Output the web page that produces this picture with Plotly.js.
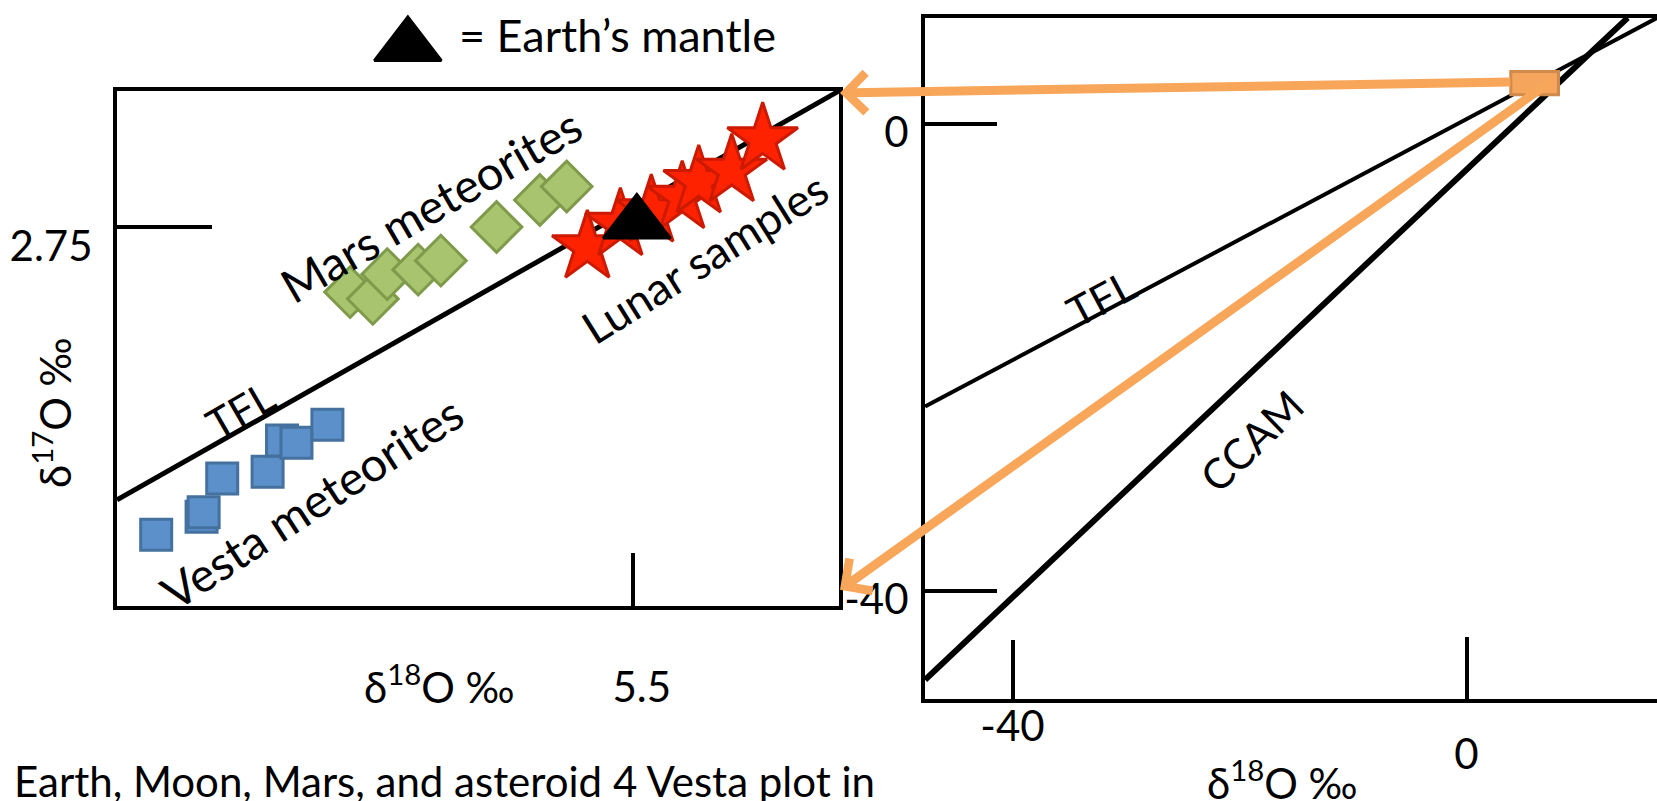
<!DOCTYPE html>
<html>
<head>
<meta charset="utf-8">
<script src="https://cdn.plot.ly/plotly-3.0.1.min.js"></script>
<style>
html,body{margin:0;padding:0;background:#ffffff;}
#chart{width:1657px;height:801px;}
</style>
</head>
<body>
<div id="chart"></div>
<script>
// ---------- Inset panel (zoomed): δ18O ‰ (x) vs δ17O ‰ (y) ----------
const vestaX = [3.19, 3.41, 3.42, 3.51, 3.73, 3.80, 3.87, 4.02];
const vestaY = [1.38, 1.46, 1.48, 1.63, 1.66, 1.80, 1.79, 1.87];

const marsX = [4.13, 4.24, 4.31, 4.46, 4.57, 4.84, 5.05, 5.18];
const marsY = [2.46, 2.43, 2.54, 2.56, 2.60, 2.75, 2.87, 2.93];

const lunarX = [5.28, 5.44, 5.59, 5.74, 5.82, 5.98, 6.13];
const lunarY = [2.66, 2.76, 2.82, 2.88, 2.95, 3.00, 3.14];

const earthX = [5.52];
const earthY = [2.765];

// legend key for the Earth's mantle symbol (above the inset frame, same units)
const keyX = [4.41];
const keyY = [3.555];

// terrestrial fractionation line in the inset
const tflInsetX = [3.0, 6.5];
const tflInsetY = [1.535, 3.355];

const insetXTicks = [5.5];
const insetXTickText = ['5.5'];
const insetYTicks = [2.75];
const insetYTickText = ['2.75'];

// ---------- Full-scale panel ----------
const tflX = [-47.7, 16.8];
const tflY = [-24.2, 9.1];
const ccamX = [-47.7, 14.2];
const ccamY = [-47.6, 9.1];

// region shown in the inset (orange box)
const zoomBoxX = [3.9, 8.1];
const zoomBoxY = [2.5, 4.5];

const fullXTicksA = [-40];
const fullXTickTextA = ['-40'];
const fullXTicksB = [0];
const fullXTickTextB = ['0'];
const fullYTicks = [0, -40];
const fullYTickText = ['0', '-40'];

// arrows from the orange box to the inset corners (full-scale coordinates)
const arrowTailX = [4.0, 7.6];
const arrowTailY = [3.6, 3.77];
const arrowTipX = [-55.2, -55.2];
const arrowTipY = [2.66, -39.9];

// ---------- layout helpers ----------
const W = 1657, H = 801;
const FONT = 'Lato, "Open Sans", sans-serif';
const px = v => v / W;
const py = v => 1 - v / H;

const fullXRange = [-47.71, 16.78];

const traces = [
  {x: tflInsetX, y: tflInsetY, xaxis: 'x', yaxis: 'y', mode: 'lines',
   line: {color: '#000000', width: 5}, hoverinfo: 'skip', showlegend: false},
  {x: vestaX, y: vestaY, xaxis: 'x', yaxis: 'y', mode: 'markers', name: 'Vesta meteorites',
   marker: {symbol: 'square', size: 31, color: '#5B90CB', line: {color: '#44719E', width: 3}}, showlegend: false},
  {x: marsX, y: marsY, xaxis: 'x', yaxis: 'y', mode: 'markers', name: 'Mars meteorites',
   marker: {symbol: 'diamond', size: 39, color: '#A8C46E', line: {color: '#7E9A4A', width: 3}}, showlegend: false},
  {x: lunarX, y: lunarY, xaxis: 'x', yaxis: 'y', mode: 'markers', name: 'Lunar samples',
   marker: {symbol: 'star', size: 53, color: '#FF2200', line: {color: '#CC1A00', width: 3}}, showlegend: false},
  {x: earthX, y: earthY, xaxis: 'x', yaxis: 'y', mode: 'markers', name: "Earth's mantle",
   marker: {symbol: 'triangle-up', size: 58, color: '#000000', line: {color: '#000000', width: 3}}, showlegend: false},
  {x: keyX, y: keyY, xaxis: 'x4', yaxis: 'y4', mode: 'markers', cliponaxis: false, hoverinfo: 'skip',
   marker: {symbol: 'triangle-up', size: 58, color: '#000000', line: {color: '#000000', width: 3}}, showlegend: false},
  {x: tflX, y: tflY, xaxis: 'x2', yaxis: 'y2', mode: 'lines', name: 'TFL',
   line: {color: '#000000', width: 4}, showlegend: false},
  {x: ccamX, y: ccamY, xaxis: 'x3', yaxis: 'y2', mode: 'lines', name: 'CCAM',
   line: {color: '#000000', width: 6}, showlegend: false}
];

const axisFont = {family: FONT, size: 42, color: '#000000'};
const baseAxis = {showgrid: false, zeroline: false, linecolor: '#000000', linewidth: 4,
  ticks: 'inside', tickwidth: 4, tickcolor: '#000000', tickfont: axisFont, fixedrange: true};

const textAnn = (text, x, y, angle, size, extra) => Object.assign({
  xref: 'paper', yref: 'paper', x: px(x), y: py(y), text: text, showarrow: false,
  textangle: angle, xanchor: 'center', yanchor: 'middle',
  font: {family: FONT, size: size, color: '#000000'}
}, extra || {});

const annotations = [];
for (let i = 0; i < arrowTipX.length; i++) {
  annotations.push({xref: 'x2', yref: 'y2', axref: 'x2', ayref: 'y2',
    x: arrowTipX[i], y: arrowTipY[i], ax: arrowTailX[i], ay: arrowTailY[i],
    text: '', showarrow: true, arrowhead: 4, arrowsize: 0.85, arrowwidth: 9,
    arrowcolor: '#F8A65A', standoff: 0, startstandoff: 0});
}
annotations.push(
  textAnn('Mars meteorites', 431, 205, -30, 47),
  textAnn('Lunar samples', 704, 258, -32, 45),
  textAnn('Vesta meteorites', 312, 502, -33, 47),
  textAnn('TFL', 240, 410, -30, 42),
  textAnn('TFL', 1101, 298, -28, 42),
  textAnn('CCAM', 1251, 441, -44, 42),
  textAnn('δ<sup>18</sup>O ‰', 439, 684, 0, 42),
  textAnn('δ<sup>17</sup>O ‰', 52, 413, -90, 42),
  textAnn('δ<sup>18</sup>O ‰', 1282, 780, 0, 42),
  textAnn('= Earth’s mantle', 457, 35, 0, 45, {xanchor: 'left'}),
  textAnn('Earth, Moon, Mars, and asteroid 4 Vesta plot in', 12, 781, 0, 42, {xanchor: 'left'})
);

const layout = {
  width: W, height: H,
  margin: {l: 0, r: 0, t: 0, b: 0, pad: 0},
  paper_bgcolor: '#ffffff', plot_bgcolor: 'rgba(0,0,0,0)',
  showlegend: false,
  font: {family: FONT, color: '#000000'},
  xaxis: Object.assign({}, baseAxis, {domain: [117 / W, 839 / W], range: [3.0, 6.5], anchor: 'y',
    showline: true, mirror: true, ticklen: 53, tickvals: insetXTicks, ticktext: insetXTickText,
    ticklabelstandoff: 42, ticklabelshift: 9}),
  yaxis: Object.assign({}, baseAxis, {domain: [1 - 606 / H, 1 - 91 / H], range: [1.063, 3.355], anchor: 'x',
    showline: true, mirror: true, ticklen: 95, tickvals: insetYTicks, ticktext: insetYTickText,
    ticklabelstandoff: 12, ticklabelshift: 19}),
  xaxis4: {domain: [117 / W, 839 / W], range: [3.0, 6.5], anchor: 'y4', visible: false, fixedrange: true},
  yaxis4: {domain: [1 - 91 / H, 1], range: [3.355, 3.760], anchor: 'x4', visible: false, fixedrange: true},
  xaxis2: Object.assign({}, baseAxis, {domain: [925 / W, 1], range: fullXRange, anchor: 'y2',
    showline: true, mirror: true, ticklen: 59, tickvals: fullXTicksA, ticktext: fullXTickTextA,
    ticklabelstandoff: -12}),
  xaxis3: Object.assign({}, baseAxis, {domain: [925 / W, 1], range: fullXRange, anchor: 'y2',
    overlaying: 'x2', showline: false, ticklen: 62, tickvals: fullXTicksB, ticktext: fullXTickTextB,
    ticklabelstandoff: 27}),
  yaxis2: Object.assign({}, baseAxis, {domain: [1 - 699 / H, 1 - 18 / H], range: [-49.25, 9.08], anchor: 'x2',
    showline: true, mirror: false, ticklen: 72, tickvals: fullYTicks, ticktext: fullYTickText,
    ticklabelstandoff: 4, ticklabelshift: 8}),
  shapes: [
    {type: 'rect', xref: 'x2', yref: 'y2', layer: 'above',
     x0: zoomBoxX[0], x1: zoomBoxX[1], y0: zoomBoxY[0], y1: zoomBoxY[1],
     fillcolor: '#F5A65C', line: {color: '#CF8A4C', width: 3}}
  ],
  annotations: annotations
};

Plotly.newPlot('chart', traces, layout, {displayModeBar: false, staticPlot: true});
</script>
</body>
</html>
